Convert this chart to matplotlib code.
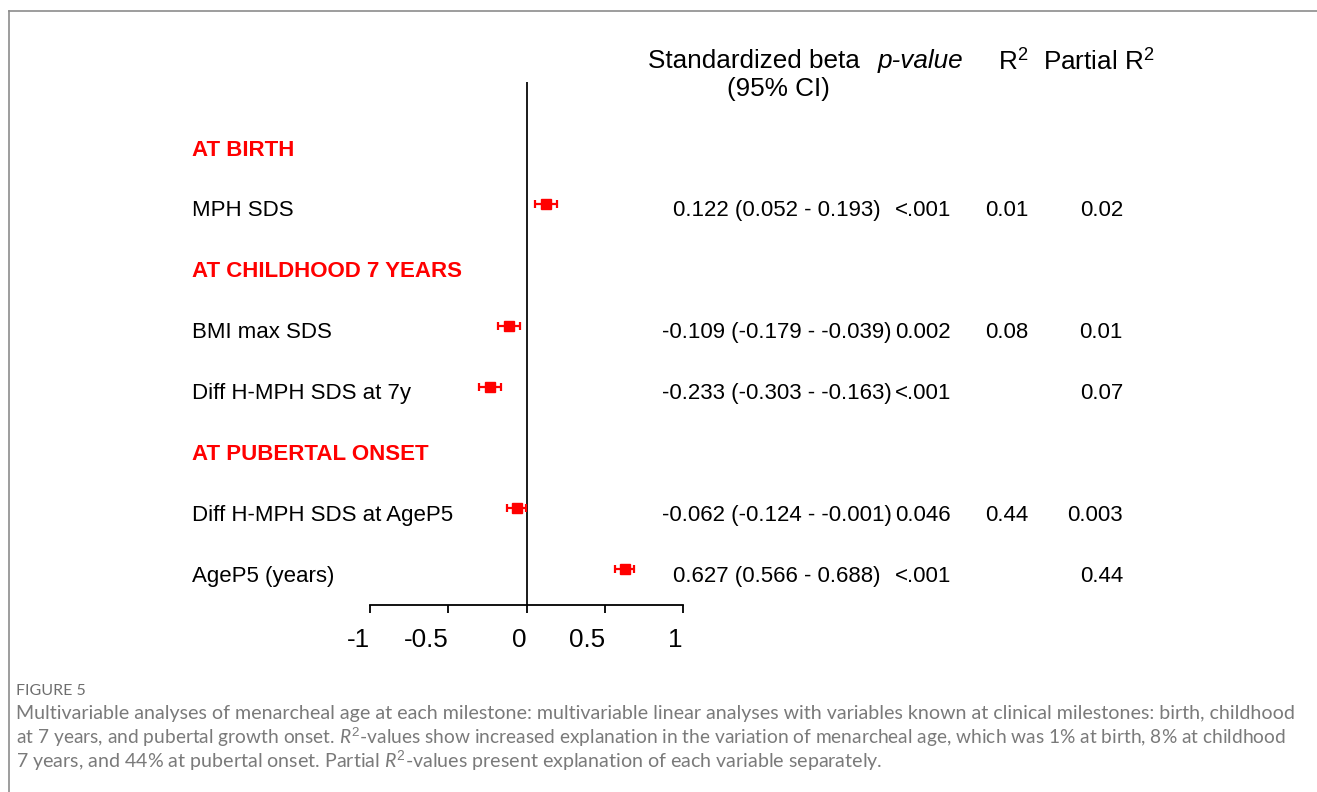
import numpy as np
import matplotlib
matplotlib.use("Agg")
import matplotlib.pyplot as plt
from matplotlib import transforms
from matplotlib.lines import Line2D

plt.rcParams["font.family"] = ["Liberation Sans", "DejaVu Sans"]
plt.rcParams["mathtext.fontset"] = "custom"
plt.rcParams["mathtext.rm"] = "Liberation Sans"
plt.rcParams["mathtext.it"] = "Lato:italic"

# ---- data -------------------------------------------------------------
row_labels = ["AT BIRTH", "MPH SDS", "AT CHILDHOOD 7 YEARS", "BMI max SDS",
              "Diff H-MPH SDS at 7y", "AT PUBERTAL ONSET",
              "Diff H-MPH SDS at AgeP5", "AgeP5 (years)"]
is_group = [True, False, True, False, False, True, False, False]
beta = [np.nan, 0.122, np.nan, -0.109, -0.233, np.nan, -0.062, 0.627]
ci_low = [np.nan, 0.052, np.nan, -0.179, -0.303, np.nan, -0.124, 0.566]
ci_high = [np.nan, 0.193, np.nan, -0.039, -0.163, np.nan, -0.001, 0.688]
p_values = ["", "<.001", "", "0.002", "<.001", "", "0.046", "<.001"]
r2 = ["", "0.01", "", "0.08", "", "", "0.44", ""]
partial_r2 = ["", "0.02", "", "0.01", "0.07", "", "0.003", "0.44"]
x_ticks = [-1, -0.5, 0, 0.5, 1]
x_tick_labels = ["-1", "-0.5", "0", "0.5", "1"]

caption_title = "FIGURE 5"
caption_lines = [
    "Multivariable analyses of menarcheal age at each milestone: multivariable linear analyses with variables known at clinical milestones: birth, childhood",
    "at 7 years, and pubertal growth onset. $\\mathit{R}^2$-values show increased explanation in the variation of menarcheal age, which was 1% at birth, 8% at childhood",
    "7 years, and 44% at pubertal onset. Partial $\\mathit{R}^2$-values present explanation of each variable separately.",
]
caption_sizes = [14.1, 13.75, 14.1]

# ---- layout -----------------------------------------------------------
W, H = 1317, 792
fig = plt.figure(figsize=(W / 100, H / 100), dpi=100)
fig.patch.set_facecolor("white")

def fx(px):
    return px / W

def fy(py):
    return 1 - py / H

ax_left, ax_right, ax_top, ax_bottom = 370, 683, 82, 605
ax = fig.add_axes([fx(ax_left), fy(ax_bottom), fx(ax_right - ax_left),
                   (ax_bottom - ax_top) / H])
ax.set_facecolor("none")
ax.set_xlim(-1, 1)
row_px0, row_step = 148, 60.86
ax.set_ylim((ax_bottom - row_px0) / row_step, (ax_top - row_px0) / row_step)

for s in ["top", "right", "left"]:
    ax.spines[s].set_visible(False)
ax.spines["bottom"].set_linewidth(1.3)
ax.set_yticks([])
ax.set_xticks(x_ticks)
ax.set_xticklabels(x_tick_labels, fontsize=18.7)
ax.tick_params(axis="x", direction="out", length=5.5, width=1.3, pad=11)
for lab in ax.get_xticklabels():
    lab.set_ha("right")

ax.axvline(0, color="#1a1a1a", lw=1.4, zorder=1)

ypos = np.arange(len(row_labels), dtype=float)
b = np.array(beta)
lo = np.array(ci_low)
hi = np.array(ci_high)
m = ~np.isnan(b)
ax.errorbar(b[m], ypos[m] - 0.08, xerr=[b[m] - lo[m], hi[m] - b[m]],
            fmt="s", color="#ff0000", ms=7.5, elinewidth=1.6,
            capsize=3, capthick=1.6, zorder=3)

# text columns share the row positions of the axes
tr = transforms.blended_transform_factory(fig.transFigure, ax.transData)
fs = 16.0
dy = 0.035
for i, lab in enumerate(row_labels):
    y = ypos[i] + dy
    if is_group[i]:
        fig.text(fx(192), y, lab, transform=tr, fontsize=fs, fontweight="bold",
                 color="#ff0000", va="center", ha="left")
        continue
    fig.text(fx(192), y, lab, transform=tr, fontsize=fs, va="center", ha="left")
    ci_txt = f"{beta[i]:.3f} ({ci_low[i]:.3f} - {ci_high[i]:.3f})"
    fig.text(fx(777), y, ci_txt, transform=tr, fontsize=fs, va="center", ha="center")
    fig.text(fx(895), y, p_values[i], transform=tr, fontsize=fs, va="center", ha="left")
    if r2[i]:
        fig.text(fx(1007), y, r2[i], transform=tr, fontsize=fs, va="center", ha="center")
    fig.text(fx(1123), y, partial_r2[i], transform=tr, fontsize=fs, va="center", ha="right")

# column headers
hs = 18.8
fig.text(fx(754), fy(61), "Standardized beta", fontsize=hs, ha="center", va="center")
fig.text(fx(778), fy(89), "(95% CI)", fontsize=hs, ha="center", va="center")
fig.text(fx(920), fy(61), "p-value", fontsize=hs, ha="center", va="center", style="italic")
fig.text(fx(998), fy(61), r"$\mathrm{R}^2$", fontsize=hs, ha="left", va="center")
fig.text(fx(1043), fy(61), r"Partial $\mathrm{R}^2$", fontsize=hs, ha="left", va="center")

# caption
fig.text(fx(16), fy(691), caption_title, fontsize=11.5, color="#6e6e6e",
         family="Lato", ha="left", va="center")
for k, line in enumerate(caption_lines):
    fig.text(fx(16), fy(714 + 23.5 * k), line, fontsize=caption_sizes[k], color="#7a7a7a",
             family="Lato", ha="left", va="center")

# frame
fig.add_artist(Line2D([fx(9), 1], [fy(10.5), fy(10.5)], color="#8c8c8c", lw=1.2))
fig.add_artist(Line2D([fx(9), fx(9)], [fy(10.5), 0], color="#8c8c8c", lw=1.2))

fig.savefig("out.png", dpi=100)
